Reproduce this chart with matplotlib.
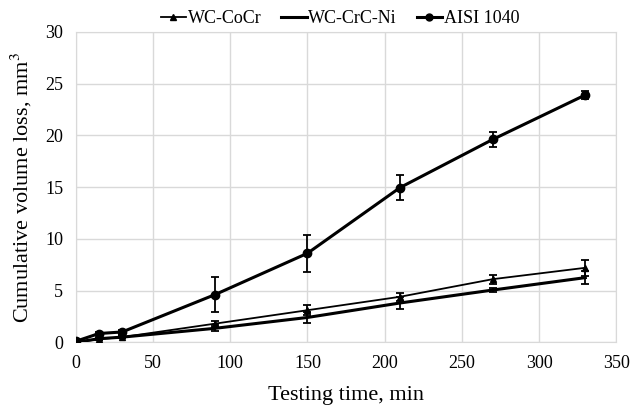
import numpy as np
import matplotlib
matplotlib.use('Agg')
import matplotlib.pyplot as plt
from matplotlib.lines import Line2D

plt.rcParams['font.family'] = ['Liberation Serif', 'DejaVu Serif']
plt.rcParams['mathtext.fontset'] = 'stix'

# testing times, min
time = [0, 15, 30, 90, 150, 210, 270, 330]

# cumulative volume loss, mm3, and error bars
wc_cocr = [0.0, 0.3, 0.5, 1.8, 3.1, 4.4, 6.1, 7.2]
wc_cocr_err = [0.05, 0.1, 0.1, 0.3, 0.5, 0.4, 0.45, 0.75]
wc_crc_ni = [0.0, 0.35, 0.5, 1.35, 2.4, 3.8, 5.05, 6.25]
wc_crc_ni_err = [0.05, 0.1, 0.1, 0.3, 0.5, 0.6, 0.2, 0.6]
aisi = [0.1, 0.85, 1.0, 4.6, 8.6, 14.95, 19.6, 23.9]
aisi_err = [0.05, 0.1, 0.15, 1.7, 1.8, 1.2, 0.7, 0.35]

fig = plt.figure(figsize=(6.32, 4.08), dpi=100)
ax = fig.add_axes([0.120, 0.161, 0.855, 0.761])

kw = dict(color='black', capsize=3, elinewidth=1.3, capthick=1.3)
ax.errorbar(time, wc_cocr, yerr=wc_cocr_err, lw=1.3, marker='^', ms=5,
            zorder=3, **kw)
ax.errorbar(time, wc_crc_ni, yerr=wc_crc_ni_err, lw=2.2, marker='None',
            zorder=3, **kw)
ax.errorbar(time, aisi, yerr=aisi_err, lw=2.2, marker='o', ms=6,
            zorder=4, **kw)

ax.set_xlim(0, 350)
ax.set_ylim(0, 30)
ax.set_xticks(np.arange(0, 351, 50))
ax.set_yticks(np.arange(0, 31, 5))
ax.grid(True, color='#d9d9d9', lw=1)
ax.set_axisbelow(True)
for s in ax.spines.values():
    s.set_color('#d9d9d9')
ax.tick_params(length=0, labelsize=13, pad=9)

ax.set_xlabel('Testing time, min', fontsize=16, labelpad=10)
ax.set_ylabel('Cumulative volume loss, mm$^3$', fontsize=16, labelpad=8)

handles = [
    Line2D([], [], color='black', lw=1.3, marker='^', ms=5),
    Line2D([], [], color='black', lw=2.2),
    Line2D([], [], color='black', lw=2.2, marker='o', ms=5),
]
labels = ['WC-CoCr', 'WC-CrC-Ni', 'AISI 1040']
fig.legend(handles, labels, loc='center', bbox_to_anchor=(0.538, 0.955),
           ncol=3, frameon=False, fontsize=13, handlelength=1.4,
           handletextpad=0.1, columnspacing=1.1)

fig.savefig('out.png', dpi=100)
